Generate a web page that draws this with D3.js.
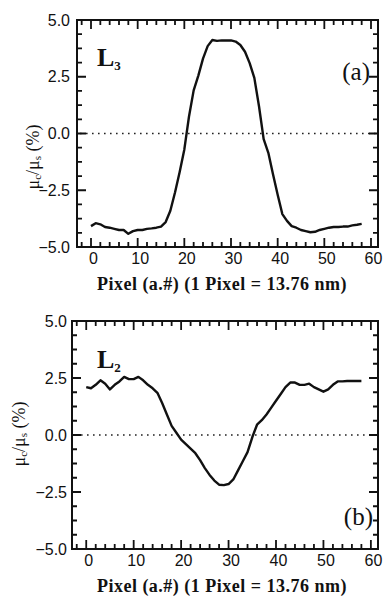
<!DOCTYPE html>
<html>
<head>
<meta charset="utf-8">
<script src="https://cdn.jsdelivr.net/npm/d3@7"></script>
<style>
  body { margin: 0; background: #fff; }
  svg { display: block; }
</style>
</head>
<body>
<div id="chart"></div>
<script>
// pixel index along the line scan
const pixelIndex = [0, 1, 2, 3, 4, 5, 6, 7, 8, 9, 10, 11, 12, 13, 14, 15, 16, 17, 18, 19,
  20, 21, 22, 23, 24, 25, 26, 27, 28, 29, 30, 31, 32, 33, 34, 35, 36, 37, 38, 39,
  40, 41, 42, 43, 44, 45, 46, 47, 48, 49, 50, 51, 52, 53, 54, 55, 56, 57, 58];

// (a) L3 contrast, %
const contrastL3 = [-4.08, -3.95, -4.0, -4.12, -4.15, -4.2, -4.25, -4.25, -4.42, -4.3,
  -4.25, -4.25, -4.2, -4.18, -4.15, -4.1, -3.9, -3.4, -2.6, -1.7,
  -0.7, 0.75, 1.9, 2.55, 3.3, 3.85, 4.12, 4.08, 4.1, 4.1,
  4.1, 4.05, 3.9, 3.6, 3.1, 2.45, 1.2, -0.25, -0.85, -1.8,
  -2.7, -3.55, -3.85, -4.08, -4.15, -4.25, -4.3, -4.35, -4.33, -4.25,
  -4.2, -4.15, -4.12, -4.12, -4.1, -4.1, -4.05, -4.02, -3.98];

// (b) L2 contrast, %
const contrastL2 = [2.1, 2.05, 2.2, 2.4, 2.25, 2.0, 2.2, 2.35, 2.55, 2.45,
  2.45, 2.55, 2.4, 2.2, 2.05, 1.85, 1.4, 0.9, 0.4, 0.1,
  -0.2, -0.4, -0.6, -0.8, -1.1, -1.45, -1.75, -2.0, -2.18, -2.2,
  -2.15, -1.95, -1.55, -1.15, -0.75, -0.1, 0.45, 0.65, 0.9, 1.2,
  1.5, 1.8, 2.1, 2.3, 2.3, 2.2, 2.2, 2.25, 2.1, 2.0,
  1.9, 2.0, 2.2, 2.35, 2.35, 2.37, 2.37, 2.37, 2.37];

const xTickValues = [0, 10, 20, 30, 40, 50, 60];
const yTickValues = [-5, -2.5, 0, 2.5, 5];
const xDomain = [-3, 61.5];
const yDomain = [-5, 5];

const xTitle = 'Pixel (a.#) (1 Pixel = 13.76 nm)';

const width = 387, height = 598;
const svg = d3.select('#chart').append('svg')
  .attr('width', width)
  .attr('height', height);

const panels = [
  { values: contrastL3, left: 77, right: 378, top: 20, bottom: 247,
    name: '3', tag: '(a)', tagX: 370, tagY: 80, nameY: 66,
    yLabelX: 35, yLabelY: 157, yTickX: 70, titleY: 290 },
  { values: contrastL2, left: 72, right: 378, top: 321, bottom: 549,
    name: '2', tag: '(b)', tagX: 373, tagY: 525, nameY: 368,
    yLabelX: 21, yLabelY: 434, yTickX: 67, titleY: 592 }
];

const serif = '"Liberation Serif", "Times New Roman", serif';

function drawPanel(p) {
  const x = d3.scaleLinear().domain(xDomain).range([p.left, p.right]);
  const y = d3.scaleLinear().domain(yDomain).range([p.bottom, p.top]);
  const g = svg.append('g');

  // tick labels through d3 axes
  const xAxis = g.append('g')
    .attr('transform', `translate(0,${p.bottom})`)
    .call(d3.axisBottom(x).tickValues(xTickValues).tickSize(0).tickPadding(6));
  const yAxis = g.append('g')
    .attr('transform', `translate(${p.left},0)`)
    .call(d3.axisLeft(y).tickValues(yTickValues).tickSize(0)
      .tickPadding(p.left - p.yTickX).tickFormat(d3.format('.1f')));
  [xAxis, yAxis].forEach(a => {
    a.select('.domain').remove();
    a.selectAll('.tick line').remove();
    a.selectAll('.tick text')
      .attr('font-family', '"Liberation Sans", Arial, sans-serif')
      .attr('font-size', 16)
      .attr('fill', '#111');
  });
  xAxis.selectAll('.tick text').attr('dx', 2);

  // zero reference line
  g.append('line')
    .attr('x1', p.left + 3).attr('x2', p.right - 2)
    .attr('y1', y(0)).attr('y2', y(0))
    .attr('stroke', '#222').attr('stroke-width', 1.6)
    .attr('stroke-dasharray', '1.6,4.4');

  // data line
  const line = d3.line()
    .x((d, i) => x(pixelIndex[i]))
    .y(d => y(d));
  g.append('path')
    .datum(p.values)
    .attr('d', line)
    .attr('fill', 'none')
    .attr('stroke', '#111')
    .attr('stroke-width', 2.4)
    .attr('stroke-linejoin', 'round');

  // frame
  g.append('rect')
    .attr('x', p.left).attr('y', p.top)
    .attr('width', p.right - p.left).attr('height', p.bottom - p.top)
    .attr('fill', 'none').attr('stroke', '#111').attr('stroke-width', 2);

  // inward tick marks on all four sides, drawn on top of the frame
  const xTicks = d3.range(-2, 61, 2).map(v => ({ v, len: xTickValues.includes(v) ? 9 : 5 }));
  const yTicks = d3.range(-5, 5.01, 0.625).map(v => ({ v, len: yTickValues.includes(v) ? 9 : 5 }));
  const tickPath = [];
  xTicks.forEach(d => {
    const px = x(d.v);
    tickPath.push(`M${px},${p.bottom}V${p.bottom - d.len}`);
    tickPath.push(`M${px},${p.top}V${p.top + d.len}`);
  });
  yTicks.forEach(d => {
    const py = y(d.v);
    tickPath.push(`M${p.left},${py}H${p.left + d.len}`);
    tickPath.push(`M${p.right},${py}H${p.right - d.len}`);
  });
  g.append('path')
    .attr('d', tickPath.join(''))
    .attr('fill', 'none')
    .attr('stroke', '#111')
    .attr('stroke-width', 1.8);

  // panel labels
  const lab = g.append('text')
    .attr('x', 97).attr('y', p.nameY)
    .attr('font-family', serif)
    .attr('font-weight', 'bold')
    .attr('font-size', 26)
    .attr('fill', '#111');
  lab.append('tspan').text('L');
  lab.append('tspan').attr('font-size', 13).attr('dy', 4).text(p.name);

  g.append('text')
    .attr('x', p.tagX).attr('y', p.tagY)
    .attr('text-anchor', 'end')
    .attr('font-family', serif)
    .attr('font-size', 25)
    .attr('fill', '#111')
    .text(p.tag);

  const yl = g.append('text')
    .attr('transform', `translate(${p.yLabelX},${p.yLabelY}) rotate(-90)`)
    .attr('text-anchor', 'middle')
    .attr('dominant-baseline', 'middle')
    .attr('font-family', serif)
    .attr('font-size', 18)
    .attr('fill', '#111');
  yl.append('tspan').text('μ');
  yl.append('tspan').attr('font-size', 11).attr('dy', 3).text('c');
  yl.append('tspan').attr('dy', -3).text('/μ');
  yl.append('tspan').attr('font-size', 11).attr('dy', 3).text('s');
  yl.append('tspan').attr('dy', -3).text(' (%)');

  g.append('text')
    .attr('x', 222).attr('y', p.titleY)
    .attr('text-anchor', 'middle')
    .attr('font-family', serif)
    .attr('font-weight', 'bold')
    .attr('font-size', 18)
    .attr('letter-spacing', 0.5)
    .attr('fill', '#111')
    .text(xTitle);
}

panels.forEach(p => drawPanel(p));
</script>
</body>
</html>
